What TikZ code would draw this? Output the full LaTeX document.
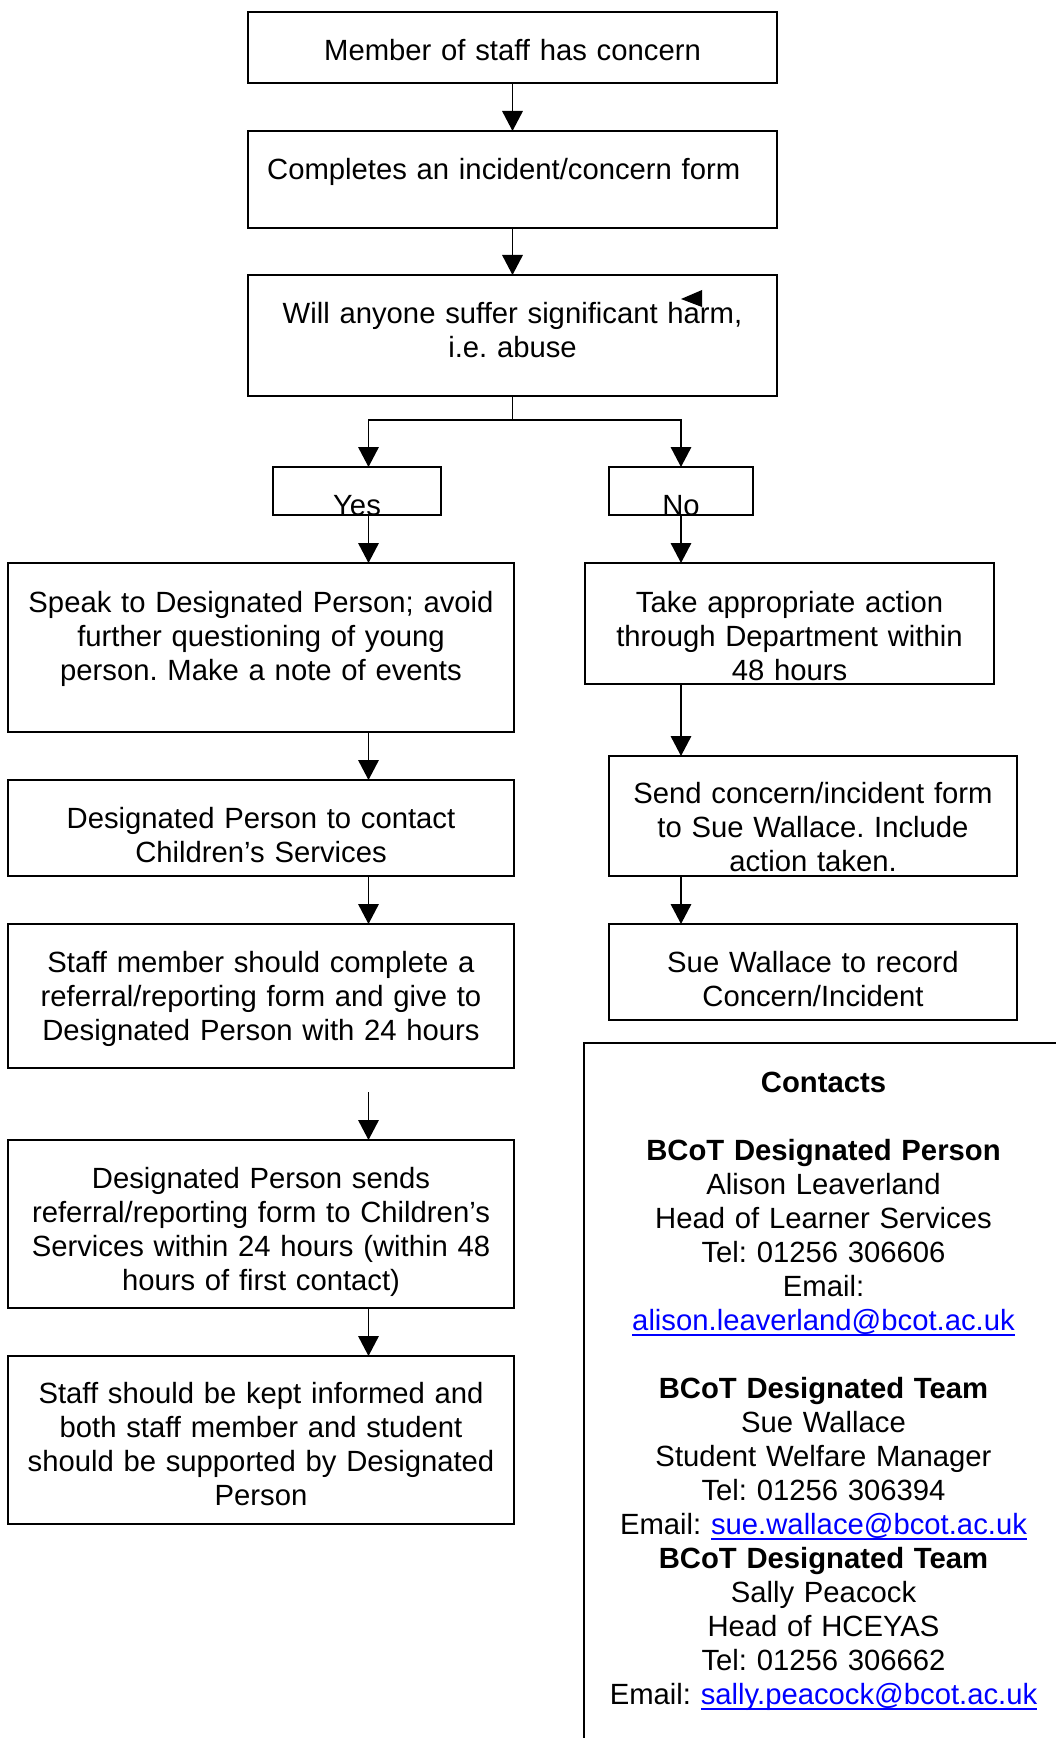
\documentclass[tikz,border=0pt]{standalone}
\usepackage{fontspec}
\setmainfont{Liberation Sans}
\usepackage{xcolor}
\usepackage{tikz}
\usetikzlibrary{arrows.meta}
\definecolor{linkblue}{RGB}{0,0,255}
\frenchspacing
\tikzset{
  flowbox/.style={draw, line width=0.8pt, anchor=north west, inner sep=0pt, outer sep=0pt,
    align=center, font=\fontsize{11.7pt}{13.6pt}\selectfont},
  flowline/.style={line width=0.7pt},
  flowarrow/.style={flowline, -{Triangle[length=8pt,width=8.2pt]}}
}
\newcommand{\flowbox}[7]{%
  \pgfmathsetmacro{\boxwd}{0.4*(#4-#2)}%
  \pgfmathsetmacro{\boxht}{0.4*(#6-#3)}%
  \pgfmathsetmacro{\boxdp}{0.4*(#5-#6)}%
  \node[flowbox, text width=\boxwd pt, text height=\boxht pt, text depth=\boxdp pt] (#1) at (#2,#3) {#7};}
\newcommand{\maillink}[1]{\leavevmode{\color{linkblue}\setbox0=\hbox{#1}\rlap{\rule[-2.2pt]{\wd0}{0.6pt}}\box0}}

\begin{document}
\begin{tikzpicture}[x=0.4pt, y=-0.4pt]
  \useasboundingbox (0,0) rectangle (1055,1738);
  \flowbox{member}{248}{12}{777}{83}{61}{Member of staff has concern}
  \flowbox{completes}{248}{131}{777}{228}{180}{Completes an incident/concern form\hbox to 7pt{}}
  \flowbox{harm}{248}{275}{777}{396}{323}{Will anyone suffer significant harm,\\ i.e. abuse}
  \fill (681,299) -- (702,290) -- (702,307) -- cycle;
  \flowbox{yes}{273}{467}{441}{515}{515}{Yes}
  \flowbox{no}{609}{467}{753}{515}{515}{No}
  \flowbox{speak}{8}{563}{514}{732}{612}{Speak to Designated Person; avoid\\ further questioning of young\\ person. Make a note of events}
  \flowbox{action}{585}{563}{994}{684}{612}{Take appropriate action\\ through Department within\\ 48 hours}
  \flowbox{contact}{8}{780}{514}{876}{828}{Designated Person to contact\\ Children’s Services}
  \flowbox{sendform}{609}{756}{1017}{876}{803}{Send concern/incident form\\ to Sue Wallace. Include\\ action taken.}
  \flowbox{complete}{8}{924}{514}{1068}{972}{Staff member should complete a\\ referral/reporting form and give to\\ Designated Person with 24 hours}
  \flowbox{record}{609}{924}{1017}{1020}{972}{Sue Wallace to record\\ Concern/Incident}
  \flowbox{sends}{8}{1140}{514}{1308}{1188}{Designated Person sends\\ referral/reporting form to Children’s\\ Services within 24 hours (within 48\\ hours of first contact)}
  \flowbox{informed}{8}{1356}{514}{1524}{1403}{Staff should be kept informed and\\ both staff member and student\\ should be supported by Designated\\ Person}
  \flowbox{contacts}{584}{1043}{1063}{1800}{1092}{\textbf{Contacts}\\[13.6pt]
    \textbf{BCoT Designated Person}\\ Alison Leaverland\\ Head of Learner Services\\ Tel: 01256 306606\\ Email:\\
    \maillink{alison.leaverland@bcot.ac.uk}\\[13.6pt]
    \textbf{BCoT Designated Team}\\ Sue Wallace\\ Student Welfare Manager\\ Tel: 01256 306394\\
    Email: \maillink{sue.wallace@bcot.ac.uk}\\
    \textbf{BCoT Designated Team}\\ Sally Peacock\\ Head of HCEYAS\\ Tel: 01256 306662\\
    Email: \maillink{sally.peacock@bcot.ac.uk}}
  \coordinate (lcol) at (368.5,420);
  \coordinate (rcol) at (681,420);
  \coordinate (gapstart) at (368.5,1092);
  \draw[flowarrow] (member) -- (completes);
  \draw[flowarrow] (completes) -- (harm);
  \draw[flowarrow] (harm.south) |- (lcol) -- (yes.north -| lcol);
  \draw[flowarrow] (harm.south) |- (rcol) -- (no.north -| rcol);
  \draw[flowarrow] (yes.south -| lcol) -- (speak.north -| lcol);
  \draw[flowarrow] (no.south -| rcol) -- (action.north -| rcol);
  \draw[flowarrow] (speak.south -| lcol) -- (contact.north -| lcol);
  \draw[flowarrow] (action.south -| rcol) -- (sendform.north -| rcol);
  \draw[flowarrow] (contact.south -| lcol) -- (complete.north -| lcol);
  \draw[flowarrow] (sendform.south -| rcol) -- (record.north -| rcol);
  \draw[flowarrow] (gapstart) -- (sends.north -| lcol);
  \draw[flowarrow] (sends.south -| lcol) -- (informed.north -| lcol);
\end{tikzpicture}
\end{document}
